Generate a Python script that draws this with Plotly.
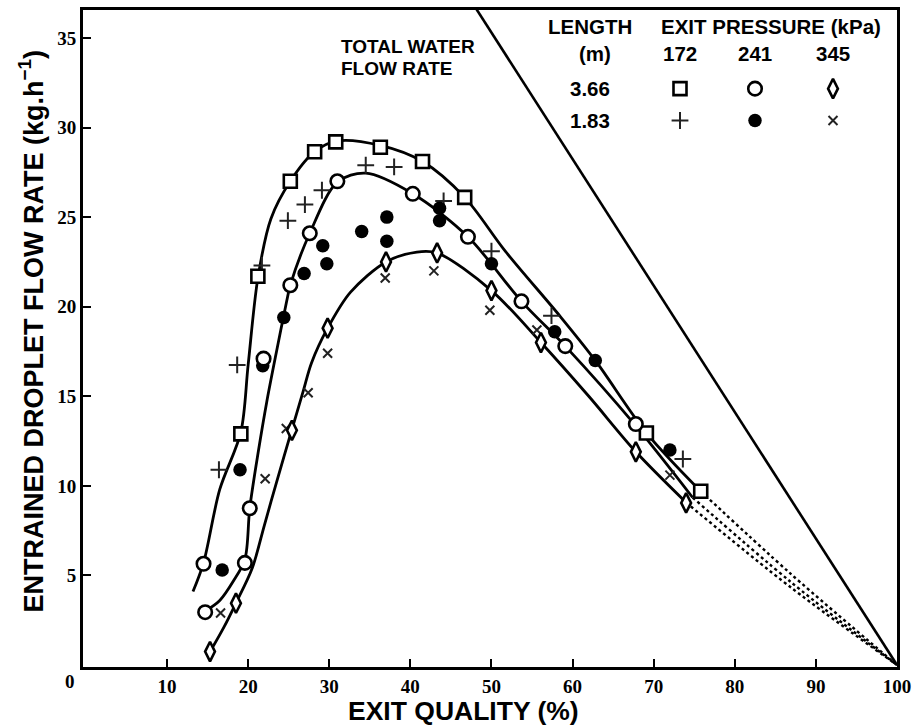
import plotly.graph_objects as go

# ---------------------------------------------------------------------------
# Entrained droplet flow rate (kg/h) versus exit quality (%)
# ---------------------------------------------------------------------------

# Measured points, test section length 3.66 m
L366_P172_X = [19.1, 21.2, 25.2, 28.2, 30.8, 36.3, 41.5, 46.7, 69.1, 75.8]
L366_P172_Y = [12.9, 21.7, 27.0, 28.65, 29.2, 28.9, 28.1, 26.1, 12.95, 9.7]

L366_P241_X = [14.5, 14.7, 19.6, 20.2, 21.9, 25.2, 27.6, 31.0, 40.3, 47.1, 53.7, 59.1, 67.8]
L366_P241_Y = [5.65, 2.95, 5.7, 8.75, 17.1, 21.2, 24.1, 27.0, 26.3, 23.9, 20.3, 17.8, 13.45]

L366_P345_X = [15.3, 18.5, 25.4, 29.8, 37.0, 43.3, 50.0, 56.1, 67.8, 74.0]
L366_P345_Y = [0.75, 3.45, 13.1, 18.8, 22.5, 23.0, 20.9, 18.0, 11.9, 9.05]

# Measured points, test section length 1.83 m
L183_P172_X = [16.4, 18.65, 21.7, 24.9, 27.0, 29.1, 34.5, 38.0, 44.1, 50.0, 57.4, 73.6]
L183_P172_Y = [10.9, 16.75, 22.3, 24.8, 25.7, 26.5, 27.9, 27.8, 25.9, 23.1, 19.5, 11.5]

L183_P241_X = [16.8, 19.0, 21.8, 24.4, 26.9, 29.2, 29.7, 34.0, 37.1, 37.1, 43.6, 43.6, 50.0, 57.8, 62.8, 72.0]
L183_P241_Y = [5.3, 10.9, 16.7, 19.4, 21.85, 23.4, 22.4, 24.2, 25.0, 23.65, 25.5, 24.8, 22.4, 18.6, 17.0, 12.0]

L183_P345_X = [16.6, 22.1, 24.7, 27.4, 29.8, 36.9, 42.9, 49.8, 55.6, 72.0]
L183_P345_Y = [2.9, 10.4, 13.2, 15.2, 17.4, 21.6, 22.0, 19.8, 18.7, 10.6]

# Smoothed trend curves (one per exit pressure)
CURVE_172_X = [13.2, 14.5, 16.5, 19.1, 20.0, 21.2, 22.8, 25.2, 28.2, 31.0, 36.3, 41.5, 46.7, 51.7, 58.4, 62.8, 69.1, 75.8]
CURVE_172_Y = [4.1, 5.7, 9.8, 13.0, 16.75, 21.6, 24.9, 27.0, 28.65, 29.25, 29.0, 28.1, 26.1, 23.1, 19.5, 17.0, 12.96, 9.7]

CURVE_241_X = [14.7, 16.5, 18.2, 19.6, 20.2, 21.25, 22.3, 23.5, 24.75, 25.2, 27.6, 31.0, 34.5, 40.3, 47.1, 53.7, 59.1, 67.7, 74.8]
CURVE_241_Y = [3.0, 3.6, 4.7, 5.9, 8.76, 11.9, 14.7, 17.5, 20.3, 21.2, 24.1, 26.95, 27.45, 26.3, 23.9, 20.3, 17.8, 13.4, 9.35]

CURVE_345_X = [15.3, 17.0, 18.5, 20.5, 22.0, 23.5, 25.4, 26.8, 27.8, 29.8, 32.6, 37.0, 40.8, 43.3, 50.0, 56.1, 62.0, 67.8, 74.0]
CURVE_345_Y = [0.74, 2.1, 3.46, 5.4, 7.8, 10.2, 13.15, 15.3, 16.85, 18.8, 20.8, 22.5, 23.05, 23.0, 20.9, 18.0, 15.0, 11.9, 9.07]

# Extrapolations to zero entrainment at 100 % quality
EXTRAP_172_X = [75.8, 87.0, 100.0]
EXTRAP_172_Y = [9.7, 5.05, 0.0]
EXTRAP_241_X = [74.8, 87.0, 100.0]
EXTRAP_241_Y = [9.35, 4.6, 0.0]
EXTRAP_345_X = [74.0, 87.0, 100.0]
EXTRAP_345_Y = [9.07, 4.3, 0.0]

# Total water flow rate (kg/h): upper bound on entrainment, W * (1 - x)
TOTAL_WATER_FLOW = 70.6
TOTAL_LINE_X = [0.0, 100.0]
TOTAL_LINE_Y = [TOTAL_WATER_FLOW, 0.0]

X_TICKS = [10, 20, 30, 40, 50, 60, 70, 80, 90, 100]
Y_TICKS = [5, 10, 15, 20, 25, 30, 35]

LENGTHS = ["3.66", "1.83"]
PRESSURES = ["172", "241", "345"]

SANS = "Liberation Sans, Arial, sans-serif"
SERIF = "Liberation Serif, Times New Roman, serif"
INK = "black"

# Figure geometry (pixels)
W_PX, H_PX = 920, 727
M_L, M_R, M_T, M_B = 83, 23, 7, 60


def paper(px, py):
    """Figure pixel position -> plot-area paper coordinates."""
    pw = W_PX - M_L - M_R
    ph = H_PX - M_T - M_B
    return (px - M_L) / pw, (H_PX - M_B - py) / ph


fig = go.Figure()

# Total water flow rate line
fig.add_trace(go.Scatter(x=TOTAL_LINE_X, y=TOTAL_LINE_Y, mode="lines",
                         line=dict(color=INK, width=2.6), hoverinfo="skip"))

# Trend curves and their dotted extrapolations
for cx, cy in [(CURVE_172_X, CURVE_172_Y), (CURVE_241_X, CURVE_241_Y), (CURVE_345_X, CURVE_345_Y)]:
    fig.add_trace(go.Scatter(x=cx, y=cy, mode="lines",
                             line=dict(color=INK, width=2.8, shape="spline", smoothing=0.9)))
for ex, ey in [(EXTRAP_172_X, EXTRAP_172_Y), (EXTRAP_241_X, EXTRAP_241_Y), (EXTRAP_345_X, EXTRAP_345_Y)]:
    fig.add_trace(go.Scatter(x=ex, y=ey, mode="lines",
                             line=dict(color=INK, width=2.4, dash="dot", shape="spline", smoothing=1.0)))

# Marker styles per series
STYLE = {
    "1.83-345": dict(symbol="x-thin", size=9, color=INK, line=dict(color="#222", width=2)),
    "1.83-172": dict(symbol="cross-thin", size=12, color=INK, line=dict(color="#222", width=2)),
    "1.83-241": dict(symbol="circle", size=13.5, color=INK, line=dict(color=INK, width=0)),
    "3.66-172": dict(symbol="square", size=13, color="white", line=dict(color=INK, width=2.6)),
    "3.66-241": dict(symbol="circle", size=13.5, color="white", line=dict(color=INK, width=2.6)),
    "3.66-345": dict(symbol="diamond-tall", size=14, color="white", line=dict(color=INK, width=2.6)),
}

SERIES = [
    ("1.83-345", L183_P345_X, L183_P345_Y),
    ("1.83-172", L183_P172_X, L183_P172_Y),
    ("1.83-241", L183_P241_X, L183_P241_Y),
    ("3.66-172", L366_P172_X, L366_P172_Y),
    ("3.66-241", L366_P241_X, L366_P241_Y),
    ("3.66-345", L366_P345_X, L366_P345_Y),
]
for key, sx, sy in SERIES:
    fig.add_trace(go.Scatter(x=sx, y=sy, mode="markers", marker=STYLE[key], name=key))

# Key table in the upper right corner
KEY_COLS = [680, 755, 833]
KEY_ROWS = {"3.66": 86, "1.83": 118}
for length, row_y in KEY_ROWS.items():
    for p, col_x in zip(PRESSURES, KEY_COLS):
        kx, ky = paper(col_x, row_y)
        fig.add_trace(go.Scatter(x=[kx], y=[ky], xaxis="x2", yaxis="y2", mode="markers",
                                 marker=STYLE[f"{length}-{p}"], hoverinfo="skip"))

ann = []


def label(text, px, py, size=20.5, anchor="center", family=SANS, angle=0):
    ax, ay = paper(px, py)
    ann.append(dict(text=text, x=ax, y=ay, xref="paper", yref="paper", showarrow=False,
                    xanchor=anchor, yanchor="middle", textangle=angle,
                    font=dict(family=family, size=size, color=INK, weight="bold")))


label("LENGTH", 590, 24)
label("EXIT PRESSURE (kPa)", 771, 24)
label("(m)", 595, 51)
for p, col_x in zip(PRESSURES, KEY_COLS):
    label(p, col_x, 51)
for length, row_y in KEY_ROWS.items():
    label(length, 590, row_y)
label("TOTAL WATER", 339, 44, size=19, anchor="left")
label("FLOW RATE", 339, 65.5, size=19, anchor="left")

# Axis titles
label("EXIT QUALITY (%)", 463, 711, size=26.5)
label("ENTRAINED DROPLET FLOW RATE (kg.h<sup>\u22121</sup>)", 31, 330, size=27, angle=-90)

# Shared origin label
label("0", 70, 682, size=19, family=SERIF)

axis_common = dict(showgrid=False, zeroline=False, showline=True, linecolor=INK, linewidth=3,
                   mirror=True, ticks="inside", ticklen=8, tickwidth=2, tickcolor=INK,
                   tickfont=dict(family=SERIF, size=19, color=INK, weight="bold"))

fig.update_layout(
    width=W_PX, height=H_PX,
    margin=dict(l=M_L, r=M_R, t=M_T, b=M_B),
    paper_bgcolor="white", plot_bgcolor="white",
    showlegend=False,
    xaxis=dict(range=[-0.36, 100], tickvals=X_TICKS, **axis_common),
    yaxis=dict(range=[-0.11, 36.56], tickvals=Y_TICKS, **axis_common),
    xaxis2=dict(range=[0, 1], overlaying="x", visible=False),
    yaxis2=dict(range=[0, 1], overlaying="y", visible=False),
    annotations=ann,
)

fig.write_html("out.html")
